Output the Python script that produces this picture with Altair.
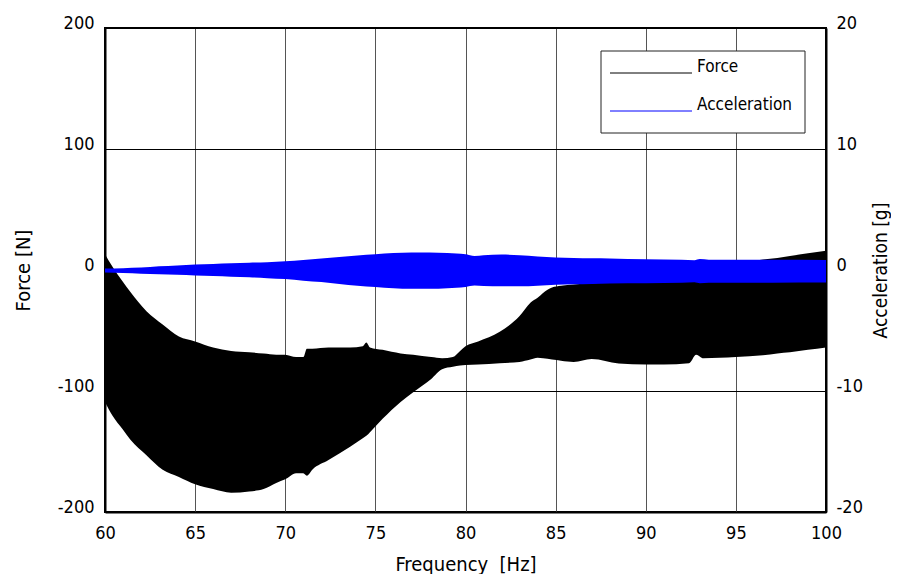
import altair as alt
import pandas as pd

# ---- data ----
force_freq = [60.0, 60.4, 61.0, 61.4, 62.3, 63.2, 64.1, 65.0, 66.0, 67.0, 68.0, 68.8, 69.5,
              70.0, 70.6, 71.0, 71.2, 71.5, 72.4, 73.6, 74.3, 74.5, 74.7, 75.4, 76.4, 77.1,
              78.1, 78.7, 79.3, 79.7, 80.0, 80.7, 81.9, 83.0, 83.6, 84.0, 84.3, 84.8, 85.3,
              86.0, 87.0, 88.5, 90.0, 91.0, 92.4, 92.8, 93.2, 95.0, 96.5, 97.3, 98.0, 99.0,
              100.0]
force_upper = [13, 3, -10, -18, -34, -45, -55, -59, -64, -67, -68, -69, -70,
               -70, -72, -72, -65, -65, -64, -64, -63, -60, -64, -66, -69, -70,
               -72, -73, -72, -67, -63, -59, -51, -38, -27, -23, -19, -14.5, -13,
               -12, -11, -10, -7, -5, -1, 0, 1, 5, 8.7, 10, 11.5, 13.8,
               16]
force_lower = [-109, -120, -132, -140, -153, -165, -171, -177, -181, -184, -183, -181, -176,
               -173, -168, -168, -170, -165, -157, -146, -139, -137, -134, -123, -109, -101,
               -90, -82, -80, -79, -78.5, -78, -77, -76, -74, -72.6, -73, -74, -75,
               -76, -73.6, -77.3, -78, -78, -77, -70, -73, -72, -70.5, -69, -68, -66,
               -64]

acc_freq = [60, 61, 62, 63, 64, 65, 66, 67, 68, 69, 70, 71, 72, 73, 74, 75, 76, 77, 78, 79,
            80, 80.5, 81, 82, 83, 84, 85, 86, 87, 88, 90, 92, 92.7, 93, 93.5, 95, 97, 100]
acc_upper = [0.12, 0.15, 0.2, 0.3, 0.38, 0.45, 0.5, 0.55, 0.6, 0.65, 0.72, 0.82, 0.95, 1.08,
             1.2, 1.3, 1.4, 1.45, 1.45, 1.4, 1.3, 1.15, 1.22, 1.28, 1.22, 1.12, 1.04, 1.0,
             0.97, 0.95, 0.88, 0.84, 0.8, 0.9, 0.85, 0.85, 0.85, 0.83]
acc_lower = [-0.2, -0.25, -0.3, -0.35, -0.4, -0.45, -0.5, -0.55, -0.6, -0.68, -0.75, -0.88,
             -1.0, -1.15, -1.3, -1.4, -1.5, -1.55, -1.55, -1.5, -1.4, -1.28, -1.32, -1.35,
             -1.35, -1.3, -1.22, -1.18, -1.15, -1.12, -1.1, -1.06, -1.02, -1.1, -1.05,
             -1.05, -1.05, -1.04]

x_ticks = [60, 65, 70, 75, 80, 85, 90, 95, 100]
force_ticks = [-200, -100, 0, 100, 200]
acc_ticks = [-20, -10, 0, 10, 20]
series_names = ["Force", "Acceleration"]
series_colors = ["#000000", "#0000ff"]

FONT = "DejaVu Sans Condensed, DejaVu Sans, sans-serif"
LABEL_EXPR = "'' + datum.value"

force_df = pd.DataFrame({"f": force_freq, "hi": force_upper, "lo": force_lower})
acc_df = pd.DataFrame({"f": acc_freq, "hi": acc_upper, "lo": acc_lower})

x_enc = alt.X("f:Q", scale=alt.Scale(domain=[60, 100], nice=False, zero=False),
              axis=alt.Axis(values=x_ticks, title="Frequency\u00a0 [Hz]", grid=True,
                            gridColor="#555555", gridWidth=1, labelPadding=12,
                            titlePadding=12, labelFlush=False, labelExpr=LABEL_EXPR))

force_area = alt.Chart(force_df).mark_area(
    color=series_colors[0], opacity=1, interpolate="monotone"
).encode(
    x=x_enc,
    y=alt.Y("hi:Q", scale=alt.Scale(domain=[-200, 200], nice=False),
            axis=alt.Axis(values=force_ticks, title="Force [N]", grid=True,
                          gridColor="#000000", gridWidth=1, labelBaseline="alphabetic",
                          labelPadding=11, titlePadding=24, labelFlush=False,
                          labelExpr=LABEL_EXPR)),
    y2="lo:Q",
)

acc_area = alt.Chart(acc_df).mark_area(
    color=series_colors[1], opacity=1, interpolate="monotone"
).encode(
    x=alt.X("f:Q"),
    y=alt.Y("hi:Q", scale=alt.Scale(domain=[-20, 20], nice=False),
            axis=alt.Axis(values=acc_ticks, title="Acceleration [g]", orient="right",
                          grid=False, labelBaseline="alphabetic", labelPadding=10,
                          titlePadding=9, titleAngle=270, titleBaseline="top",
                          titleFontSize=19, labelFlush=False, labelExpr=LABEL_EXPR)),
    y2="lo:Q",
)

one = pd.DataFrame({"k": [0]})

legend_box = alt.Chart(one).mark_rect(fill="white", stroke="#222222", strokeWidth=1).encode(
    x=alt.value(496), x2=alt.value(700), y=alt.value(23), y2=alt.value(105)
)

legend_layers = [legend_box]
row_y = [45, 83]
for name, col, yy in zip(series_names, series_colors, row_y):
    legend_layers.append(
        alt.Chart(one).mark_rule(color=col, strokeWidth=1).encode(
            x=alt.value(505), x2=alt.value(587), y=alt.value(yy))
    )
    legend_layers.append(
        alt.Chart(one).mark_text(text=name, align="left", baseline="middle",
                                 font=FONT, fontSize=17, color="black").encode(
            x=alt.value(592), y=alt.value(yy - 6))
    )

chart = alt.layer(force_area, acc_area, *legend_layers).resolve_scale(
    y="independent"
).properties(
    width=883, height=566,
    autosize=alt.AutoSizeParams(type="fit", contains="padding"),
    padding={"left": 5, "top": 6, "right": 0, "bottom": 0},
).configure(
    background="white"
).configure_view(
    stroke="black", strokeWidth=2
).configure_axis(
    labelFont=FONT, titleFont=FONT, labelFontSize=18, titleFontSize=20,
    titleFontWeight="normal", labelColor="black", titleColor="black",
    domainColor="black", domainWidth=2, ticks=False, tickSize=0, gridOpacity=1,
    labelOverlap=False,
)

chart.save("out.html", embed_options={"renderer": "svg", "actions": False})
